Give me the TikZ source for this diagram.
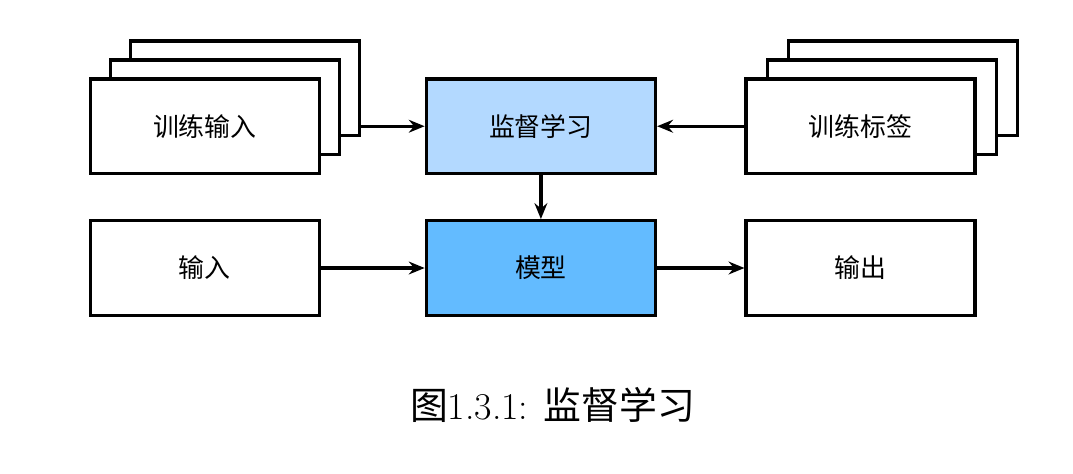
\documentclass[tikz,border=0pt]{standalone}
\usepackage{fontspec}
\newfontfamily\cjk{Noto Sans CJK SC}
\usetikzlibrary{positioning,arrows.meta,calc,shadows}
\definecolor{azulclaro}{RGB}{179,217,255}
\definecolor{azul}{RGB}{99,187,255}

\begin{document}
\begin{tikzpicture}[
    font=\cjk\fontsize{19.5}{23}\selectfont,
    caja/.style={draw, line width=2.6pt, fill=white, minimum width=60.6mm,
                 minimum height=25mm, align=center},
    pila/.style={caja, double copy shadow={shadow xshift=#1, shadow yshift=5mm}},
    pila/.default=5.3mm,
    flecha/.style={-{Stealth[length=4.2mm, width=3.4mm, inset=1.4mm]}, line width=2.6pt}
]
\useasboundingbox (0,0) rectangle (283.9mm,-125.4mm);

\node[pila]                              (entrena) at (54.2mm,-33.4mm) {训练输入};
\node[caja, fill=azulclaro, right=27.4mm of entrena] (superv)  {监督学习};
\node[pila=5.6mm, right=23.1mm of superv] (etiq)   {训练标签};

\node[caja, below=11.6mm of entrena]            (entrada) {输入};
\node[caja, fill=azul, below=11.6mm of superv]  (modelo)  {模型};
\node[caja, below=11.6mm of etiq]               (salida)  {输出};

% la flecha sale de la copia de atras
\coordinate (finpila) at ($(entrena.east)+(10.6mm,0)$);
\draw[flecha] (finpila) -- (superv);
\draw[flecha] (etiq) -- (superv);
\draw[flecha] (superv) -- (modelo);
\draw[flecha] (entrada) -- (modelo);
\draw[flecha] (modelo) -- (salida);

\node[font=\fontsize{28.5}{34}\selectfont] (titulo) at (146.2mm,-107.2mm)
    {{\cjk 图}1.3.1: {\cjk 监督学习}};

\end{tikzpicture}
\end{document}
